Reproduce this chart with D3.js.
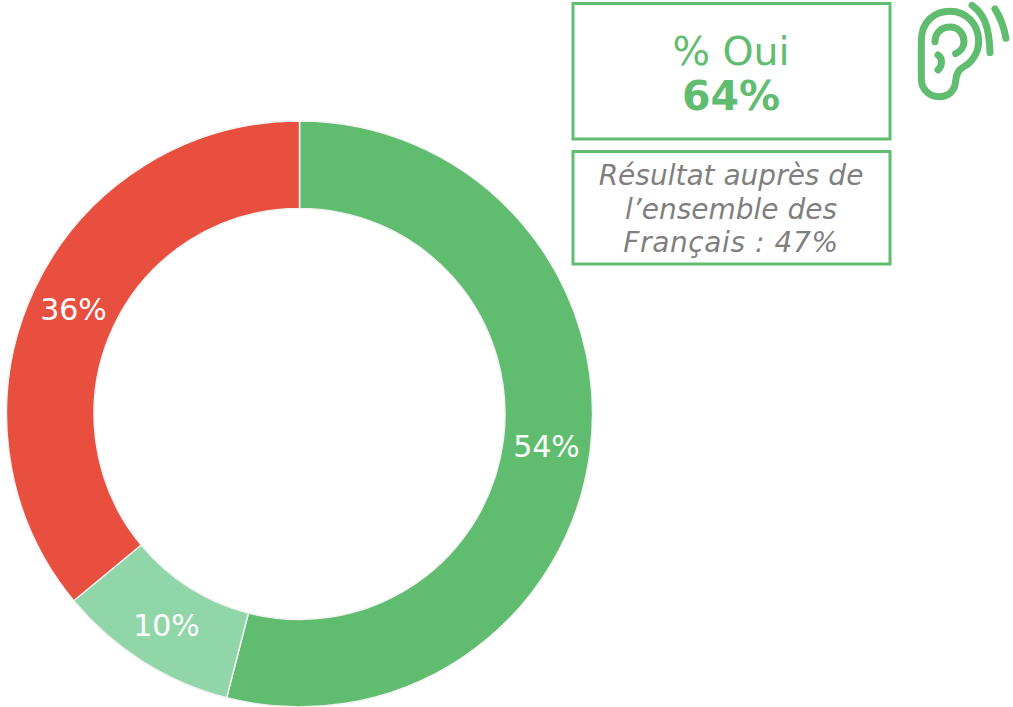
<!DOCTYPE html>
<html><head><meta charset="utf-8">
<script src="https://cdn.jsdelivr.net/npm/d3@7"></script>
<style>
html,body{margin:0;padding:0;background:#fff}
svg{display:block}
text{font-family:"DejaVu Sans",Verdana,sans-serif}
</style></head><body>
<svg id="c" width="1013" height="707"></svg>
<script>
const categories = ["Oui, tout à fait", "Oui, plutôt", "Non"];
const values = [54, 10, 36];
const labels = ["54%", "10%", "36%"];
const colors = ["#60bc6e", "#91d6a8", "#e94f3f"];
const headline = ["% Oui", "64%"];
const note = ["Résultat auprès de", "l’ensemble des", "Français : 47%"];

const svg = d3.select("#c");
const green = "#60bc6e";
const cx = 299.5, cy = 414, R = 293, r = 205.5;

const pie = d3.pie().sort(null).value(d => d)(values);
const arc = d3.arc().innerRadius(r).outerRadius(R);
const g = svg.append("g").attr("transform", `translate(${cx},${cy})`);
g.selectAll("path").data(pie).join("path")
  .attr("d", arc).attr("fill", (d, i) => colors[i])
  .attr("stroke", "#f2f2f2").attr("stroke-width", 1.5);

const labelPos = [[247, 34], [-133, 213], [-226, -103]];
g.selectAll("text").data(labels).join("text")
  .attr("x", (d, i) => labelPos[i][0]).attr("y", (d, i) => labelPos[i][1])
  .attr("text-anchor", "middle").attr("dominant-baseline", "middle")
  .attr("fill", "#fff").attr("font-size", 30).text(d => d);

svg.append("rect").attr("x", 573).attr("y", 3.5).attr("width", 317).attr("height", 135.5)
  .attr("fill", "#fff").attr("stroke", green).attr("stroke-width", 3);
svg.append("rect").attr("x", 573).attr("y", 151.5).attr("width", 317).attr("height", 112.5)
  .attr("fill", "#fff").attr("stroke", green).attr("stroke-width", 3);

svg.append("text").attr("x", 731).attr("y", 65).attr("text-anchor", "middle")
  .attr("fill", green).attr("font-size", 39.5).text(headline[0]);
svg.append("text").attr("x", 731).attr("y", 110).attr("text-anchor", "middle")
  .attr("fill", green).attr("font-size", 41).attr("font-weight", "bold").text(headline[1]);

svg.selectAll("text.note").data(note).join("text").attr("class", "note")
  .attr("x", 731).attr("y", (d, i) => 185 + i * 33.5).attr("text-anchor", "middle")
  .attr("fill", "#7f7f7f").attr("font-size", 28).attr("font-style", "italic")
  .attr("letter-spacing", (d, i) => [0, 0, 0.6][i]).text(d => d);

const ear = svg.append("g").attr("transform", "translate(900,1) scale(0.3333)")
  .attr("fill", "none").attr("stroke", green).attr("stroke-width", 21).attr("stroke-linecap", "round").attr("stroke-linejoin", "round");
[
 "M64,120 C64,60 105,31 150,31 C200,31 236,70 236,122 C236,155 215,185 190,198 C172,208 168,222 167,240 C165,270 145,287 118,287 C88,287 64,265 64,235 Z",
 "M105,122 C105,95 125,78 150,78 C175,78 192,98 192,122 C192,138 180,152 167,158",
 "M114,162 C126,170 130,190 114,207",
 "M216,13 C248,35 268,70 270,155",
 "M285,24 C302,50 312,80 318,112"
].forEach(d => ear.append("path").attr("d", d));
</script>
</body></html>
